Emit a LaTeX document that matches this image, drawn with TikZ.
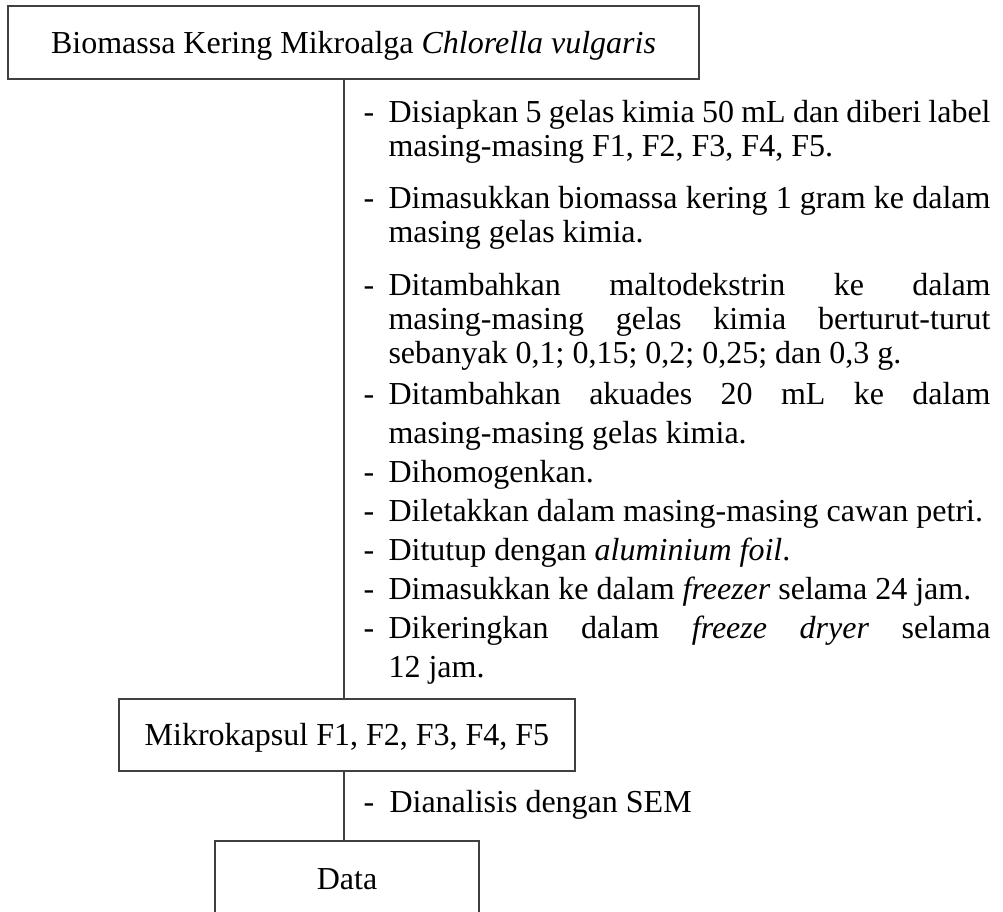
\documentclass[tikz,border=0pt]{standalone}
\usepackage{fontspec}
\setmainfont{Liberation Serif}
\newlength{\jw}
\setlength{\jw}{225.75pt}
\begin{document}
\begin{tikzpicture}[x=0.375pt,y=-0.375pt,
  box/.style={draw=black!75, line width=0.5pt, inner sep=0pt, text height=8pt, text depth=0pt, font=\fontsize{12}{13.8}\selectfont},
  conn/.style={draw=black!75, line width=0.5pt},
  txt/.style={anchor=base west, inner sep=0pt, font=\fontsize{12}{13.8}\selectfont}]
\useasboundingbox (0,0) rectangle (1003,911);
\clip (0,0) rectangle (1003,911);
% boxes
\node[box, minimum width=259.125pt, minimum height=27.375pt] (bio) at (353.5,42.5) {Biomassa Kering Mikroalga \textit{Chlorella vulgaris}};
\node[box, minimum width=171pt, minimum height=27pt] (mk) at (347,735) {Mikrokapsul F1, F2, F3, F4, F5};
\node[box, minimum width=99pt, minimum height=28.5pt] (data) at (347,879) {Data};
% spine
\coordinate (spine) at (344,0);
\draw[conn] (spine |- bio.south) -- (spine |- mk.north);
\draw[conn] (spine |- mk.south) -- (spine |- data.north);
% dashes
\node[txt] (d1) at (363,122) {-};
\node[txt] (d2) at (363,208) {-};
\node[txt] (d3) at (363,295) {-};
\node[txt] (d4) at (363,404) {-};
\node[txt] (d5) at (363,482) {-};
\node[txt] (d6) at (363,521) {-};
\node[txt] (d7) at (363,560) {-};
\node[txt] (d8) at (363,599) {-};
\node[txt] (d9) at (363,638) {-};
\node[txt] (d10) at (363,812) {-};
% lines
\node[txt] (l1) at (388,122) {\makebox[\jw][s]{Disiapkan 5 gelas kimia 50 mL dan diberi label}};
\node[txt] (l2) at (388,156) {masing-masing F1, F2, F3, F4, F5.};
\node[txt] (l3) at (388,208) {\makebox[\jw][s]{Dimasukkan biomassa kering 1 gram ke dalam}};
\node[txt] (l4) at (388,242) {masing gelas kimia.};
\node[txt] (l5) at (388,295) {\makebox[\jw][s]{Ditambahkan maltodekstrin ke dalam}};
\node[txt] (l6) at (388,329) {\makebox[\jw][s]{masing-masing gelas kimia berturut-turut}};
\node[txt] (l7) at (388,363) {sebanyak 0,1; 0,15; 0,2; 0,25; dan 0,3 g.};
\node[txt] (l8) at (388,404) {\makebox[\jw][s]{Ditambahkan akuades 20 mL ke dalam}};
\node[txt] (l9) at (388,443) {masing-masing gelas kimia.};
\node[txt] (l10) at (388,482) {Dihomogenkan.};
\node[txt] (l11) at (388,521) {Diletakkan dalam masing-masing cawan petri.};
\node[txt] (l12) at (388,560) {Ditutup dengan \textit{aluminium foil}.};
\node[txt] (l13) at (388,599) {Dimasukkan ke dalam \textit{freezer} selama 24 jam.};
\node[txt] (l14) at (388,638) {\makebox[\jw][s]{Dikeringkan dalam \textit{freeze dryer} selama}};
\node[txt] (l15) at (388,677) {12 jam.};
\node[txt] (l16) at (389,812) {Dianalisis dengan SEM};
\end{tikzpicture}
\end{document}
